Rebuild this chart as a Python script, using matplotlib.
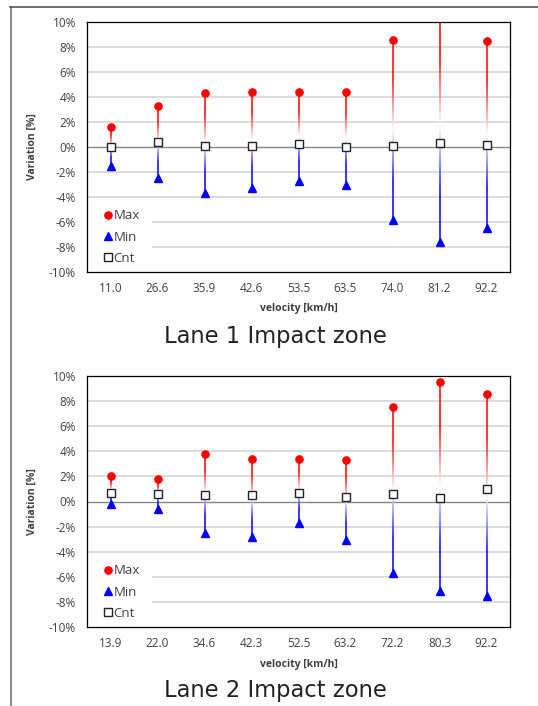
import numpy as np
import matplotlib
matplotlib.use('Agg')
import matplotlib.pyplot as plt
from matplotlib.collections import LineCollection
from matplotlib.lines import Line2D
from matplotlib.patches import Rectangle
from matplotlib.ticker import FuncFormatter

plt.rcParams['font.family'] = ['Open Sans', 'DejaVu Sans']

# data (variation in %)
lane1_speed = ['11.0', '26.6', '35.9', '42.6', '53.5', '63.5', '74.0', '81.2', '92.2']
lane1_max = [1.6, 3.3, 4.3, 4.4, 4.4, 4.4, 8.6, 11.0, 8.5]
lane1_min = [-1.5, -2.5, -3.7, -3.3, -2.7, -3.0, -5.8, -7.6, -6.5]
lane1_cnt = [0.0, 0.4, 0.1, 0.1, 0.25, 0.0, 0.1, 0.3, 0.2]

lane2_speed = ['13.9', '22.0', '34.6', '42.3', '52.5', '63.2', '72.2', '80.3', '92.2']
lane2_max = [2.0, 1.8, 3.8, 3.4, 3.4, 3.3, 7.5, 9.5, 8.55]
lane2_min = [-0.2, -0.6, -2.5, -2.8, -1.7, -3.1, -5.7, -7.1, -7.5]
lane2_cnt = [0.7, 0.6, 0.5, 0.5, 0.65, 0.35, 0.6, 0.3, 1.0]

captions = ['Lane 1 Impact zone', 'Lane 2 Impact zone']

W, H = 538, 706
TXT = '#404040'

# gradient stops along each high-low line (0 = max end, 1 = min end)
STOPS = [0.0, 0.22, 0.5, 0.78, 1.0]
STOP_COLORS = np.array([[1, 0, 0], [1, 0, 0], [1, 1, 1], [0, 0, 1], [0, 0, 1]], float)


def gradient_line(ax, x, hi, lo, n=120):
    ys = np.linspace(hi, lo, n + 1)
    segs = [[(x, ys[i]), (x, ys[i + 1])] for i in range(n)]
    t = (np.arange(n) + 0.5) / n
    cols = np.column_stack([np.interp(t, STOPS, STOP_COLORS[:, k]) for k in range(3)])
    lc = LineCollection(segs, colors=cols, linewidths=1.1, zorder=2, capstyle='butt')
    ax.add_collection(lc)


def draw_panel(ax, speeds, vmax, vmin, vcnt):
    x = np.arange(len(speeds))
    for yy in np.arange(-8, 10, 2):
        if yy == 0:
            continue
        ax.axhline(yy, color='#d9d9d9', lw=1.3, zorder=0)
    ax.axhline(0, color='#868686', lw=1.0, zorder=1)
    # white block behind the legend
    ax.add_patch(Rectangle((0, 0), 65 / 423, 72 / 250, transform=ax.transAxes,
                           fc='white', ec='none', zorder=0.5))

    for xi, hi, lo in zip(x, vmax, vmin):
        gradient_line(ax, xi, hi, lo)

    ax.plot(x, vmax, 'o', color='#ff0000', ms=5.2, mec='#ff0000', ls='none', zorder=3, label='Max')
    ax.plot(x, vmin, '^', color='#0000ff', ms=6.2, mec='#0000ff', ls='none', zorder=3, label='Min')
    ax.plot(x, vcnt, 's', mfc='white', mec='#222222', mew=1.0, ms=5.2, ls='none', zorder=4, label='Cnt')

    ax.set_xlim(-0.5, len(speeds) - 0.5)
    ax.set_ylim(-10, 10)
    ax.set_xticks(x)
    ax.set_xticklabels(speeds)
    ax.set_yticks(np.arange(-10, 11, 2))
    ax.yaxis.set_major_formatter(FuncFormatter(lambda v, p: f'{v:.0f}%'))
    ax.tick_params(length=0, labelsize=8.5, labelcolor=TXT)
    ax.tick_params(axis='y', pad=8)
    ax.tick_params(axis='x', pad=7)
    for s in ax.spines.values():
        s.set_color('#000000')
        s.set_linewidth(0.9)

    ax.set_ylabel('Variation [%]', fontsize=7.5, fontweight='bold', color=TXT, va='center')
    ax.yaxis.set_label_coords(-0.130, 0.5)
    ax.set_xlabel('velocity [km/h]', fontsize=7.5, fontweight='bold', color=TXT, va='center')
    ax.xaxis.set_label_coords(0.5, -0.148)

    leg = ax.legend(loc='lower left', bbox_to_anchor=(12 / 423, 2.5 / 250), fontsize=9.5,
                    frameon=False, handlelength=0.6, handletextpad=0.15,
                    borderaxespad=0.0, labelspacing=0.63, borderpad=0.35)
    for t in leg.get_texts():
        t.set_color(TXT)
    leg.set_zorder(5)


fig = plt.figure(figsize=(W / 100, H / 100), dpi=100)
fig.patch.set_facecolor('white')

ax1 = fig.add_axes([87 / W, 1 - 272 / H, 423 / W, 250 / H])
ax2 = fig.add_axes([87 / W, 1 - 627 / H, 423 / W, 251 / H])

draw_panel(ax1, lane1_speed, lane1_max, lane1_min, lane1_cnt)
draw_panel(ax2, lane2_speed, lane2_max, lane2_min, lane2_cnt)

for cap, yc in zip(captions, [336, 690]):
    fig.text(275 / W, 1 - yc / H, cap, fontsize=16.3, ha='center', va='center',
             color='#222222', family='DejaVu Sans')

# outer frame of the original page
fig.add_artist(Line2D([10.5 / W, 10.5 / W], [0, 1 - 7 / H], transform=fig.transFigure,
                      color='#8c8c8c', lw=1.5))
fig.add_artist(Line2D([10 / W, 1], [1 - 7 / H, 1 - 7 / H], transform=fig.transFigure,
                      color='#555555', lw=1.2))

fig.savefig('out.png', dpi=100)
